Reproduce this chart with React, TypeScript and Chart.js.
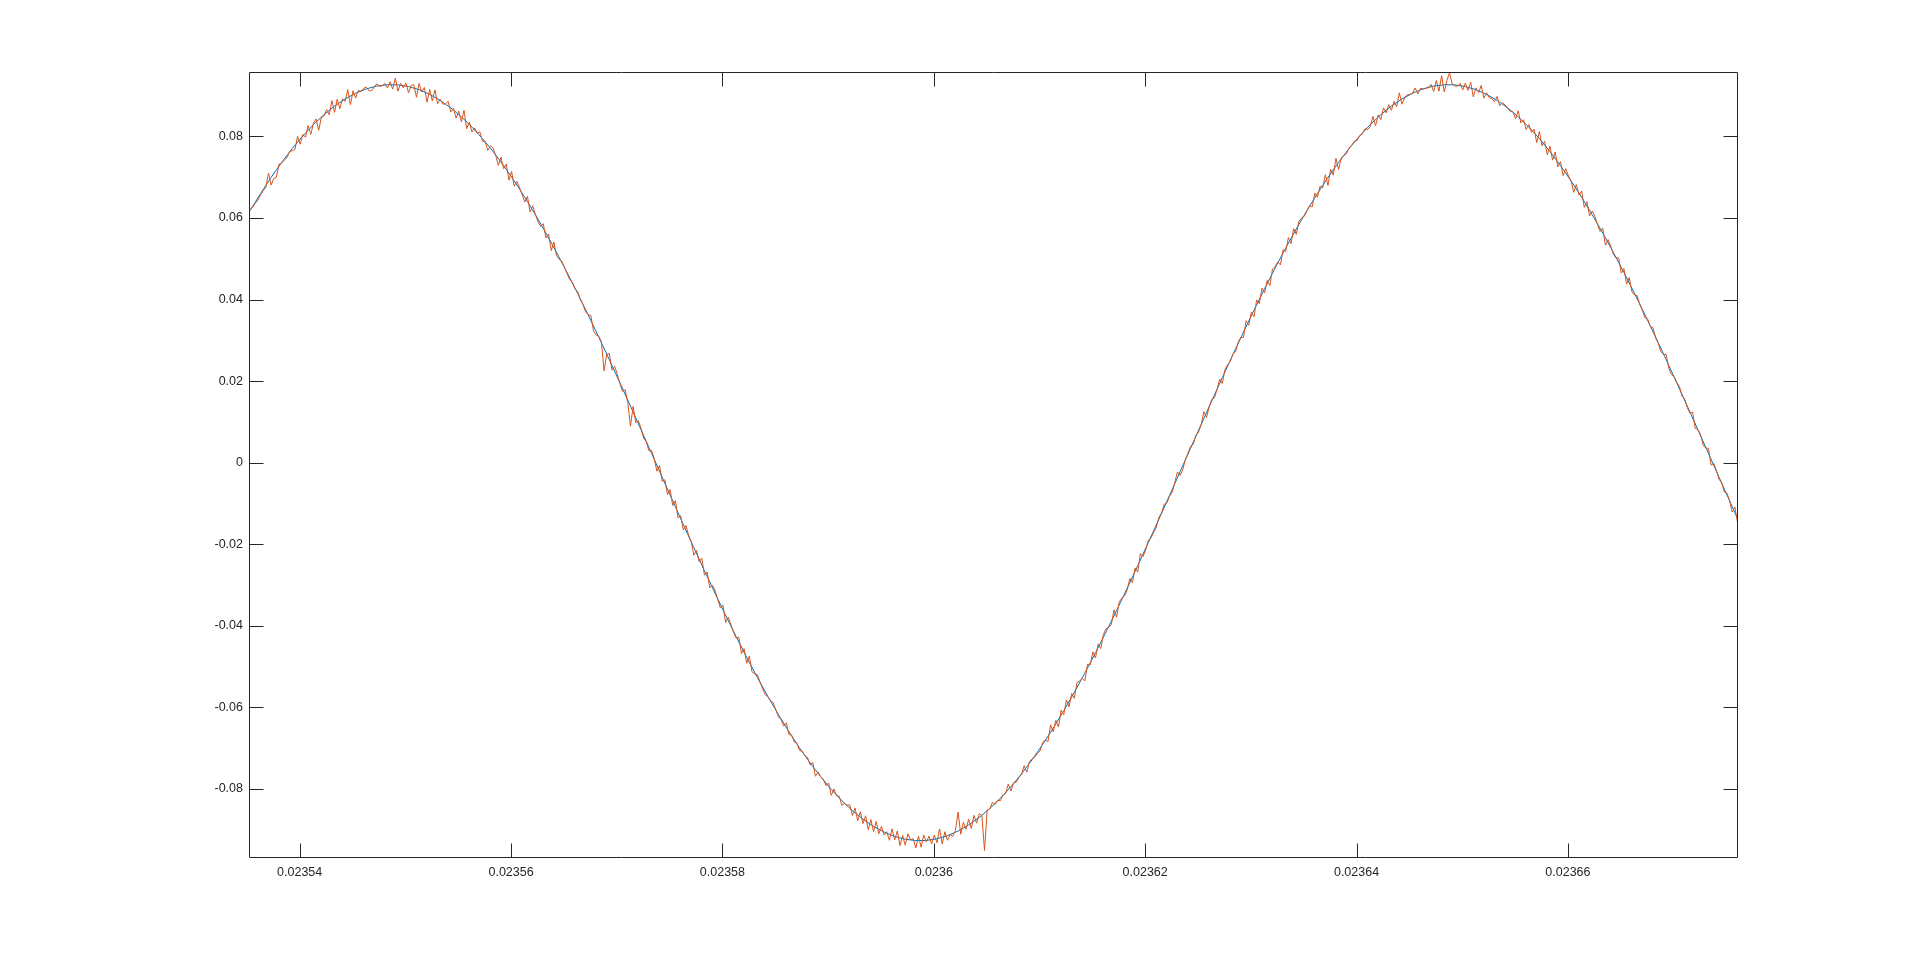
import React, { useEffect, useRef } from 'react';
import { Chart, registerables } from 'chart.js';

Chart.register(...registerables);

// sampling of the two traces (time axis, seconds)
const sampleStart = 0.0235353;
const fitStep = 1e-6;
const measuredStep = 2.5e-7;

// smooth fitted sine (blue)
const fitValues = [
  0.06178, 0.06600, 0.06996, 0.07364, 0.07703, 0.08012, 0.08289, 0.08533, 0.08743, 0.08921,
  0.09060, 0.09166, 0.09235, 0.09267, 0.09264, 0.09223, 0.09146, 0.09033, 0.08883, 0.08700,
  0.08481, 0.08230, 0.07946, 0.07631, 0.07285, 0.06910, 0.06509, 0.06082, 0.05631, 0.05157,
  0.04663, 0.04151, 0.03622, 0.03079, 0.02524, 0.01959, 0.01386, 0.00808, 0.00226, -0.00356,
  -0.00937, -0.01514, -0.02086, -0.02648, -0.03201, -0.03740, -0.04266, -0.04774, -0.05264, -0.05733,
  -0.06178, -0.06600, -0.06996, -0.07364, -0.07703, -0.08012, -0.08289, -0.08533, -0.08743, -0.08920,
  -0.09060, -0.09166, -0.09235, -0.09267, -0.09264, -0.09223, -0.09146, -0.09033, -0.08883, -0.08700,
  -0.08481, -0.08230, -0.07946, -0.07631, -0.07285, -0.06910, -0.06509, -0.06082, -0.05631, -0.05157,
  -0.04663, -0.04151, -0.03622, -0.03079, -0.02524, -0.01959, -0.01386, -0.00808, -0.00226, 0.00356,
  0.00937, 0.01514, 0.02086, 0.02648, 0.03201, 0.03740, 0.04266, 0.04774, 0.05264, 0.05733,
  0.06178, 0.06600, 0.06996, 0.07364, 0.07703, 0.08012, 0.08289, 0.08533, 0.08743, 0.08921,
  0.09060, 0.09166, 0.09235, 0.09267, 0.09264, 0.09223, 0.09146, 0.09033, 0.08883, 0.08700,
  0.08481, 0.08230, 0.07946, 0.07631, 0.07285, 0.06910, 0.06509, 0.06082, 0.05631, 0.05157,
  0.04663, 0.04151, 0.03622, 0.03079, 0.02524, 0.01959, 0.01386, 0.00808, 0.00226, -0.00356,
  -0.00937, -0.01514,
];

// noisy measured signal (orange)
const measuredValues = [
  0.0621, 0.0626, 0.0636, 0.0644, 0.0657, 0.0667, 0.0675, 0.0710,
  0.0681, 0.0697, 0.0700, 0.0732, 0.0735, 0.0742, 0.0748, 0.0763,
  0.0765, 0.0768, 0.0800, 0.0781, 0.0805, 0.0798, 0.0827, 0.0805,
  0.0832, 0.0843, 0.0815, 0.0846, 0.0850, 0.0866, 0.0853, 0.0888,
  0.0859, 0.0891, 0.0868, 0.0892, 0.0886, 0.0915, 0.0878, 0.0912,
  0.0894, 0.0913, 0.0910, 0.0918, 0.0921, 0.0912, 0.0912, 0.0921,
  0.0929, 0.0923, 0.0924, 0.0930, 0.0919, 0.0934, 0.0916, 0.0943,
  0.0911, 0.0930, 0.0919, 0.0931, 0.0907, 0.0925, 0.0927, 0.0896,
  0.0930, 0.0909, 0.0920, 0.0884, 0.0915, 0.0887, 0.0914, 0.0880,
  0.0891, 0.0879, 0.0880, 0.0886, 0.0860, 0.0869, 0.0845, 0.0862,
  0.0836, 0.0864, 0.0819, 0.0835, 0.0811, 0.0821, 0.0808, 0.0811,
  0.0788, 0.0787, 0.0766, 0.0777, 0.0772, 0.0753, 0.0729, 0.0749,
  0.0721, 0.0732, 0.0693, 0.0714, 0.0678, 0.0690, 0.0675, 0.0657,
  0.0639, 0.0653, 0.0615, 0.0630, 0.0609, 0.0591, 0.0579, 0.0586,
  0.0551, 0.0561, 0.0520, 0.0541, 0.0508, 0.0499, 0.0494, 0.0479,
  0.0464, 0.0449, 0.0443, 0.0426, 0.0420, 0.0400, 0.0388, 0.0370,
  0.0363, 0.0361, 0.0323, 0.0313, 0.0310, 0.0297, 0.0225, 0.0266,
  0.0268, 0.0227, 0.0236, 0.0217, 0.0194, 0.0175, 0.0179, 0.0147,
  0.0089, 0.0138, 0.0098, 0.0103, 0.0084, 0.0060, 0.0051, 0.0029,
  0.0030, 0.0010, -0.0021, -0.0007, -0.0046, -0.0042, -0.0078, -0.0066,
  -0.0105, -0.0093, -0.0135, -0.0130, -0.0165, -0.0154, -0.0178, -0.0194,
  -0.0227, -0.0215, -0.0243, -0.0234, -0.0276, -0.0268, -0.0307, -0.0300,
  -0.0313, -0.0335, -0.0356, -0.0349, -0.0392, -0.0379, -0.0397, -0.0416,
  -0.0430, -0.0428, -0.0468, -0.0456, -0.0492, -0.0474, -0.0513, -0.0518,
  -0.0520, -0.0537, -0.0554, -0.0569, -0.0574, -0.0584, -0.0588, -0.0606,
  -0.0623, -0.0630, -0.0646, -0.0638, -0.0667, -0.0668, -0.0685, -0.0688,
  -0.0706, -0.0707, -0.0719, -0.0723, -0.0741, -0.0735, -0.0769, -0.0758,
  -0.0771, -0.0776, -0.0792, -0.0786, -0.0816, -0.0800, -0.0817, -0.0818,
  -0.0840, -0.0836, -0.0840, -0.0839, -0.0865, -0.0847, -0.0878, -0.0856,
  -0.0885, -0.0866, -0.0900, -0.0875, -0.0905, -0.0880, -0.0910, -0.0892,
  -0.0913, -0.0905, -0.0926, -0.0898, -0.0925, -0.0903, -0.0939, -0.0914,
  -0.0938, -0.0910, -0.0925, -0.0922, -0.0945, -0.0916, -0.0943, -0.0913,
  -0.0930, -0.0916, -0.0935, -0.0913, -0.0932, -0.0898, -0.0935, -0.0905,
  -0.0926, -0.0912, -0.0916, -0.0901, -0.0857, -0.0911, -0.0882, -0.0899,
  -0.0874, -0.0897, -0.0865, -0.0884, -0.0861, -0.0865, -0.0951, -0.0852,
  -0.0849, -0.0833, -0.0838, -0.0828, -0.0829, -0.0815, -0.0811, -0.0788,
  -0.0805, -0.0785, -0.0784, -0.0772, -0.0765, -0.0743, -0.0759, -0.0733,
  -0.0726, -0.0722, -0.0713, -0.0707, -0.0687, -0.0680, -0.0684, -0.0643,
  -0.0660, -0.0632, -0.0648, -0.0607, -0.0618, -0.0582, -0.0599, -0.0566,
  -0.0578, -0.0539, -0.0535, -0.0529, -0.0535, -0.0494, -0.0496, -0.0464,
  -0.0479, -0.0445, -0.0456, -0.0421, -0.0407, -0.0404, -0.0397, -0.0361,
  -0.0379, -0.0341, -0.0332, -0.0327, -0.0312, -0.0284, -0.0294, -0.0258,
  -0.0268, -0.0223, -0.0230, -0.0214, -0.0190, -0.0185, -0.0171, -0.0159,
  -0.0134, -0.0124, -0.0102, -0.0099, -0.0083, -0.0073, -0.0049, -0.0023,
  -0.0031, -0.0018, 0.0007, 0.0023, 0.0040, 0.0045, 0.0067, 0.0075,
  0.0094, 0.0125, 0.0111, 0.0136, 0.0155, 0.0159, 0.0179, 0.0205,
  0.0194, 0.0228, 0.0240, 0.0248, 0.0266, 0.0272, 0.0295, 0.0307,
  0.0307, 0.0348, 0.0337, 0.0369, 0.0358, 0.0399, 0.0390, 0.0428,
  0.0416, 0.0447, 0.0434, 0.0475, 0.0481, 0.0492, 0.0485, 0.0522,
  0.0518, 0.0552, 0.0537, 0.0574, 0.0560, 0.0592, 0.0600, 0.0604,
  0.0617, 0.0630, 0.0627, 0.0661, 0.0651, 0.0678, 0.0674, 0.0706,
  0.0680, 0.0719, 0.0705, 0.0746, 0.0719, 0.0747, 0.0753, 0.0758,
  0.0772, 0.0779, 0.0788, 0.0790, 0.0802, 0.0806, 0.0819, 0.0817,
  0.0824, 0.0849, 0.0826, 0.0853, 0.0841, 0.0870, 0.0858, 0.0878,
  0.0864, 0.0886, 0.0873, 0.0907, 0.0879, 0.0895, 0.0902, 0.0903,
  0.0906, 0.0919, 0.0904, 0.0918, 0.0916, 0.0918, 0.0920, 0.0928,
  0.0910, 0.0937, 0.0911, 0.0949, 0.0909, 0.0937, 0.0956, 0.0929,
  0.0924, 0.0923, 0.0930, 0.0914, 0.0931, 0.0913, 0.0933, 0.0897,
  0.0919, 0.0907, 0.0925, 0.0894, 0.0907, 0.0895, 0.0893, 0.0885,
  0.0898, 0.0875, 0.0883, 0.0877, 0.0869, 0.0861, 0.0861, 0.0843,
  0.0863, 0.0833, 0.0841, 0.0817, 0.0829, 0.0810, 0.0818, 0.0785,
  0.0812, 0.0777, 0.0788, 0.0755, 0.0776, 0.0742, 0.0762, 0.0725,
  0.0738, 0.0704, 0.0721, 0.0703, 0.0691, 0.0663, 0.0682, 0.0656,
  0.0666, 0.0626, 0.0640, 0.0605, 0.0617, 0.0604, 0.0584, 0.0567,
  0.0575, 0.0533, 0.0547, 0.0531, 0.0511, 0.0502, 0.0502, 0.0465,
  0.0476, 0.0438, 0.0454, 0.0420, 0.0411, 0.0410, 0.0388, 0.0373,
  0.0355, 0.0352, 0.0334, 0.0331, 0.0306, 0.0293, 0.0272, 0.0266,
  0.0265, 0.0231, 0.0216, 0.0211, 0.0197, 0.0187, 0.0163, 0.0156,
  0.0135, 0.0121, 0.0124, 0.0084, 0.0081, 0.0069, 0.0043, 0.0036,
  0.0035, -0.0006, -0.0002, -0.0019, -0.0041, -0.0049, -0.0072, -0.0075,
  -0.0093, -0.0121, -0.0109, -0.0147,
];

const xTickValues = [0.02354, 0.02356, 0.02358, 0.0236, 0.02362, 0.02364, 0.02366];
const xTickLabels = ['0.02354', '0.02356', '0.02358', '0.0236', '0.02362', '0.02364', '0.02366'];
const yTickValues = [-0.08, -0.06, -0.04, -0.02, 0, 0.02, 0.04, 0.06, 0.08];
const yTickLabels = ['-0.08', '-0.06', '-0.04', '-0.02', '0', '0.02', '0.04', '0.06', '0.08'];

const xLimits = [0.0235353, 0.023676];
const yLimits = [-0.0967, 0.0958];

const AXIS_COLOR = '#262626';
const FONT = '"Liberation Sans", Arial, Helvetica, sans-serif';

const boxPlugin = {
  id: 'matlabBox',
  afterDatasetsDraw(chart: any) {
    const { ctx, chartArea: a, scales } = chart;
    const L = a.left - 0.5;
    const R = a.right + 0.5;
    const T = a.top + 0.5;
    const B = a.bottom + 0.5;
    const len = 14;
    ctx.save();
    ctx.strokeStyle = AXIS_COLOR;
    ctx.lineWidth = 1;
    ctx.beginPath();
    ctx.rect(L, T, R - L, B - T);
    scales.x.ticks.forEach((t: any) => {
      const px = Math.round(scales.x.getPixelForValue(t.value)) + 0.5;
      ctx.moveTo(px, B);
      ctx.lineTo(px, B - len);
      ctx.moveTo(px, T);
      ctx.lineTo(px, T + len);
    });
    scales.y.ticks.forEach((t: any) => {
      const py = Math.round(scales.y.getPixelForValue(t.value)) + 0.5;
      ctx.moveTo(L, py);
      ctx.lineTo(L + len, py);
      ctx.moveTo(R, py);
      ctx.lineTo(R - len, py);
    });
    ctx.stroke();
    ctx.restore();
  },
};

export default function App() {
  const canvasRef = useRef<HTMLCanvasElement | null>(null);

  useEffect(() => {
    if (!canvasRef.current) return;
    const measured = measuredValues.map((v, i) => ({ x: sampleStart + i * measuredStep, y: v }));
    const fit = fitValues.map((v, i) => ({ x: sampleStart + i * fitStep, y: v }));

    const chart = new Chart(canvasRef.current, {
      type: 'line',
      data: {
        datasets: [
          {
            label: 'measured',
            data: measured,
            borderColor: '#D95319',
            borderWidth: 1,
            pointRadius: 0,
            tension: 0,
            fill: false,
          },
          {
            label: 'fit',
            data: fit,
            borderColor: '#0072BD',
            borderWidth: 1,
            pointRadius: 0,
            tension: 0,
            fill: false,
          },
        ],
      },
      options: {
        responsive: false,
        animation: false,
        events: [],
        layout: { padding: { left: 180, right: 183, top: 72, bottom: 67 } },
        plugins: {
          legend: { display: false },
          tooltip: { enabled: false },
          title: { display: false },
        },
        scales: {
          x: {
            type: 'linear',
            min: xLimits[0],
            max: xLimits[1],
            grid: { display: false, drawTicks: false },
            border: { display: false },
            afterBuildTicks: (scale: any) => {
              scale.ticks = xTickValues.map((v) => ({ value: v }));
            },
            afterFit: (scale: any) => {
              scale.height = 40;
            },
            ticks: {
              autoSkip: false,
              maxRotation: 0,
              padding: 8,
              color: AXIS_COLOR,
              font: { family: FONT, size: 12.5 },
              callback: (_v: any, i: number) => xTickLabels[i],
            },
          },
          y: {
            type: 'linear',
            min: yLimits[0],
            max: yLimits[1],
            grid: { display: false, drawTicks: false },
            border: { display: false },
            afterBuildTicks: (scale: any) => {
              scale.ticks = yTickValues.map((v) => ({ value: v }));
            },
            afterFit: (scale: any) => {
              scale.width = 70;
            },
            ticks: {
              autoSkip: false,
              padding: 7,
              color: AXIS_COLOR,
              font: { family: FONT, size: 12.5 },
              callback: (_v: any, i: number) => yTickLabels[i],
            },
          },
        },
      },
      plugins: [boxPlugin],
    });
    return () => chart.destroy();
  }, []);

  return (
    <div style={{ position: 'fixed', left: 0, top: 0, width: 1920, height: 964, background: '#ffffff' }}>
      <canvas ref={canvasRef} width={1920} height={964} style={{ display: 'block', width: 1920, height: 964 }} />
    </div>
  );
}
